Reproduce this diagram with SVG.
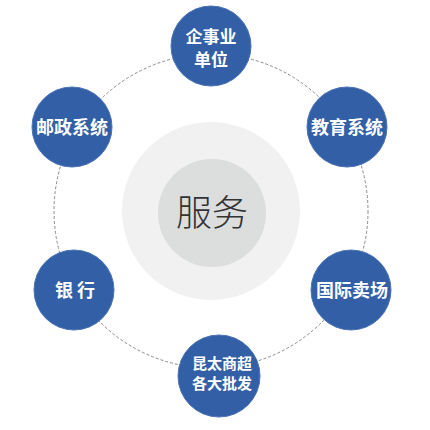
<svg xmlns="http://www.w3.org/2000/svg" width="430" height="430" viewBox="0 0 430 430">
<style>
.node{fill:#335fa6;stroke:#4a72b3;stroke-width:1}
.lbl{fill:#ffffff;font-family:"Noto Sans CJK SC","Microsoft YaHei",sans-serif;font-weight:bold;text-anchor:middle}
.ring{fill:none;stroke:#8a8a8a;stroke-width:1;stroke-dasharray:3 2}
</style>
<rect width="430" height="430" fill="#ffffff"/>
<g id="connectors">
<circle class="ring" cx="211" cy="211" r="157"/>
</g>
<g id="center">
<circle cx="211" cy="211" r="89" fill="#f1f1f1"/>
<circle cx="212" cy="213" r="54" fill="#dcdddd"/>
<text x="212" y="226" font-family="'Noto Sans CJK SC',sans-serif" font-size="36" fill="#333333" text-anchor="middle" font-weight="300">服务</text>
</g>
<g id="n-top">
<circle class="node" cx="211" cy="46" r="40"/>
<text class="lbl" x="211" y="43" font-size="17">企事业</text>
<text class="lbl" x="211" y="66" font-size="17">单位</text>
</g>
<g id="n-lefttop">
<circle class="node" cx="72" cy="127" r="40"/>
<text class="lbl" x="72" y="134" font-size="18">邮政系统</text>
</g>
<g id="n-righttop">
<circle class="node" cx="347" cy="127" r="40"/>
<text class="lbl" x="347" y="134" font-size="18">教育系统</text>
</g>
<g id="n-leftbottom">
<circle class="node" cx="74" cy="290" r="40"/>
<text class="lbl" x="75" y="297" font-size="18" xml:space="preserve">银 行</text>
</g>
<g id="n-rightbottom">
<circle class="node" cx="351" cy="290" r="40"/>
<text class="lbl" x="352" y="297" font-size="18">国际卖场</text>
</g>
<g id="n-bottom">
<circle class="node" cx="219" cy="376" r="41"/>
<text class="lbl" x="222" y="369" font-size="15">昆太商超</text>
<text class="lbl" x="222" y="389" font-size="15">各大批发</text>
</g>
</svg>
